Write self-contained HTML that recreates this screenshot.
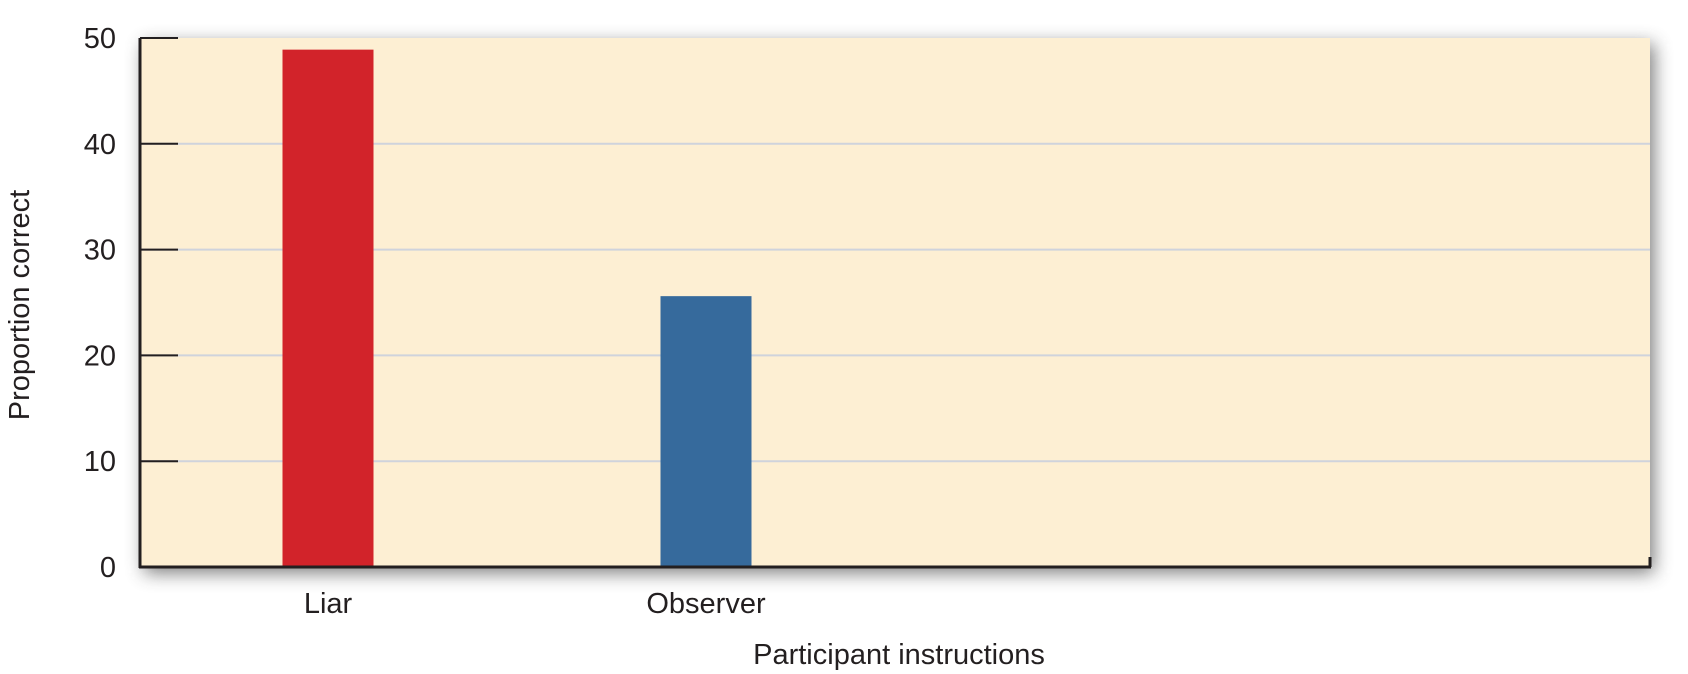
<!DOCTYPE html>
<html><head><meta charset="utf-8"><style>
html,body{margin:0;padding:0;background:#fff;}
svg{display:block;font-family:"Liberation Sans",sans-serif;}
</style></head><body>
<svg id="chart" width="1688" height="674" viewBox="0 0 1688 674" xmlns="http://www.w3.org/2000/svg">
<defs>
<filter id="sh" x="-5%" y="-20%" width="110%" height="140%"><feGaussianBlur stdDeviation="9"/></filter>
</defs>
<rect x="140" y="38" width="1510" height="529" fill="#444" opacity="0.7" filter="url(#sh)" transform="translate(4,6)"/>
<rect x="140" y="38" width="1510" height="529" fill="#fdefd3"/>
<g id="grid"></g>
<g id="bars"></g>
<g id="axes"></g>
<text transform="translate(29,305) rotate(-90)" text-anchor="middle" font-size="29" fill="#231f20">Proportion correct</text>
<text x="899" y="664" text-anchor="middle" font-size="29" fill="#231f20">Participant instructions</text>
</svg>
<script>
const categories = ["Liar", "Observer"];
const values = [48.9, 25.6];
const colors = ["#d2232a", "#366a9c"];
const yTicks = [0, 10, 20, 30, 40, 50];

const NS = "http://www.w3.org/2000/svg";
const X0 = 140, X1 = 1650, Y0 = 567, Y1 = 38, YMAX = 50;
const barCenters0 = 328, barStep = 378, barW = 91;
function y(v){ return Y0 - (v / YMAX) * (Y0 - Y1); }
function xc(i){ return barCenters0 + i * barStep; }
function mk(tag, attrs, parent){
  const e = document.createElementNS(NS, tag);
  for (const k in attrs) e.setAttribute(k, attrs[k]);
  parent.appendChild(e);
  return e;
}
const grid = document.getElementById('grid');
const bars = document.getElementById('bars');
const axes = document.getElementById('axes');

yTicks.forEach(t => {
  if (t > 0 && t < YMAX) {
    const g = mk('line', {x1: X0, x2: X1, y1: y(t), y2: y(t), stroke: '#cfd3dc', 'stroke-width': 2}, grid);
    
    
  }
  const tk = mk('line', {x1: X0, x2: 178, y1: y(t), y2: y(t), stroke: '#231f20', 'stroke-width': 2}, axes);
  
  
  const lb = mk('text', {x: 116, y: y(t) + 10, 'text-anchor': 'end', 'font-size': 29, fill: '#231f20'}, axes);
  lb.textContent = t;
  
  
});

categories.forEach((c, i) => {
  const r = mk('rect', {x: xc(i) - barW / 2, y: y(values[i]), width: barW, height: Y0 - y(values[i]), fill: colors[i]}, bars);
  
  
  const t = mk('text', {x: xc(i), y: 613, 'text-anchor': 'middle', 'font-size': 29, fill: '#231f20'}, axes);
  t.textContent = c;
  
  
});

const la = mk('line', {x1: X0, x2: X0, y1: Y1, y2: Y0 + 1, stroke: '#231f20', 'stroke-width': 3}, axes);


const ba = mk('line', {x1: X0 - 1, x2: X1 + 1, y1: Y0, y2: Y0, stroke: '#231f20', 'stroke-width': 3}, axes);


const rt = mk('line', {x1: X1, x2: X1, y1: Y0 - 10, y2: Y0, stroke: '#231f20', 'stroke-width': 3}, axes);


</script>
</body></html>
